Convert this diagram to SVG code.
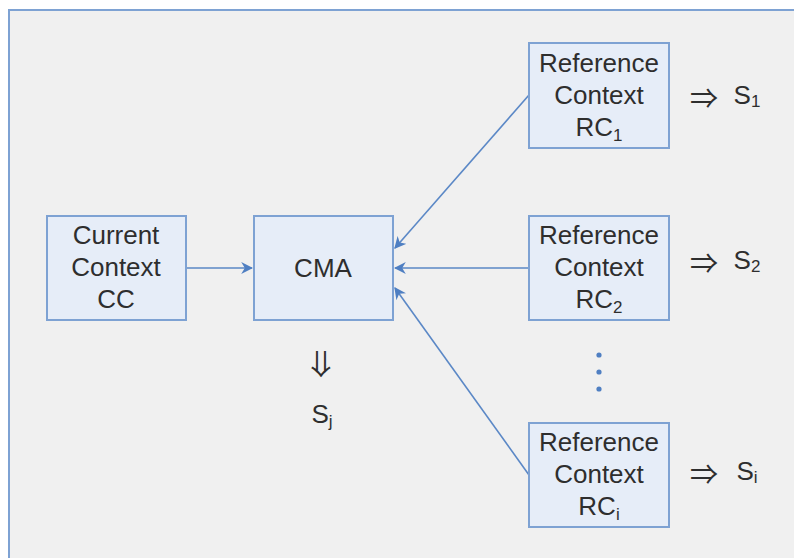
<svg xmlns="http://www.w3.org/2000/svg" width="794" height="558" viewBox="0 0 794 558">
  <style>
    .box rect { fill: #e6edf8; stroke: #7ea2d3; stroke-width: 2; }
    .lbl { font-family: "Liberation Sans", Arial, sans-serif; font-size: 26px; fill: #2e2e2e; text-anchor: middle; }
    .sub { font-size: 17px; }
    .edge { stroke: #5b88c6; stroke-width: 1.6; fill: none; marker-end: url(#ah); }
    .sym { font-family: "Noto Sans CJK JP", "DejaVu Sans", sans-serif; font-size: 28px; fill: #2e2e2e; text-anchor: middle; }
  </style>
  <defs>
    <marker id="ah" viewBox="0 0 10 10" refX="9" refY="5" markerWidth="12" markerHeight="12" markerUnits="userSpaceOnUse" orient="auto">
      <path d="M0,0 L10,5 L0,10 L3,5 Z" fill="#4f7fc2"/>
    </marker>
  </defs>

  <rect x="0" y="0" width="794" height="558" fill="#ffffff"/>
  <rect x="9" y="10" width="800" height="560" fill="#f0f0f0" stroke="#7ea2d3" stroke-width="2"/>

  <g id="connectors">
    <line class="edge" x1="187" y1="268" x2="252" y2="268"/>
    <line class="edge" x1="529" y1="268" x2="395" y2="268"/>
    <line class="edge" x1="529" y1="95" x2="395" y2="248"/>
    <line class="edge" x1="529" y1="475" x2="395" y2="288"/>
  </g>

  <g id="cc" class="box">
    <rect x="47" y="216" width="139" height="104"/>
    <text class="lbl" x="116" y="244">Current</text>
    <text class="lbl" x="116" y="276">Context</text>
    <text class="lbl" x="116" y="308">CC</text>
  </g>

  <g id="cma" class="box">
    <rect x="254" y="216" width="139" height="104"/>
    <text class="lbl" x="323" y="277">CMA</text>
  </g>

  <g id="rc1" class="box">
    <rect x="529" y="43" width="140" height="105"/>
    <text class="lbl" x="599" y="72">Reference</text>
    <text class="lbl" x="599" y="104">Context</text>
    <text class="lbl" x="599" y="136">RC<tspan class="sub" dy="5">1</tspan></text>
  </g>

  <g id="rc2" class="box">
    <rect x="529" y="216" width="140" height="104"/>
    <text class="lbl" x="599" y="244">Reference</text>
    <text class="lbl" x="599" y="276">Context</text>
    <text class="lbl" x="599" y="308">RC<tspan class="sub" dy="5">2</tspan></text>
  </g>

  <g id="rci" class="box">
    <rect x="529" y="423" width="140" height="104"/>
    <text class="lbl" x="599" y="451">Reference</text>
    <text class="lbl" x="599" y="483">Context</text>
    <text class="lbl" x="599" y="515">RC<tspan class="sub" dy="5">i</tspan></text>
  </g>

  <g id="ellipsis" fill="#4f7fc2">
    <circle cx="599" cy="355" r="2.6"/>
    <circle cx="599" cy="372" r="2.6"/>
    <circle cx="599" cy="389" r="2.6"/>
  </g>

  <g id="results">
    <text class="sym" x="704" y="109">⇒</text>
    <text class="lbl" x="747" y="104">S<tspan class="sub" dy="3">1</tspan></text>
    <text class="sym" x="704" y="274">⇒</text>
    <text class="lbl" x="747" y="269">S<tspan class="sub" dy="3">2</tspan></text>
    <text class="sym" x="704" y="485">⇒</text>
    <text class="lbl" x="747" y="480">S<tspan class="sub" dy="3">i</tspan></text>
    <!-- downward double arrow: the right-pointing glyph turned a quarter -->
    <text class="sym" x="320" y="374" font-size="30" transform="rotate(90 320 364)">⇒</text>
    <text class="lbl" x="322" y="423">S<tspan class="sub" dy="4">j</tspan></text>
  </g>
</svg>
